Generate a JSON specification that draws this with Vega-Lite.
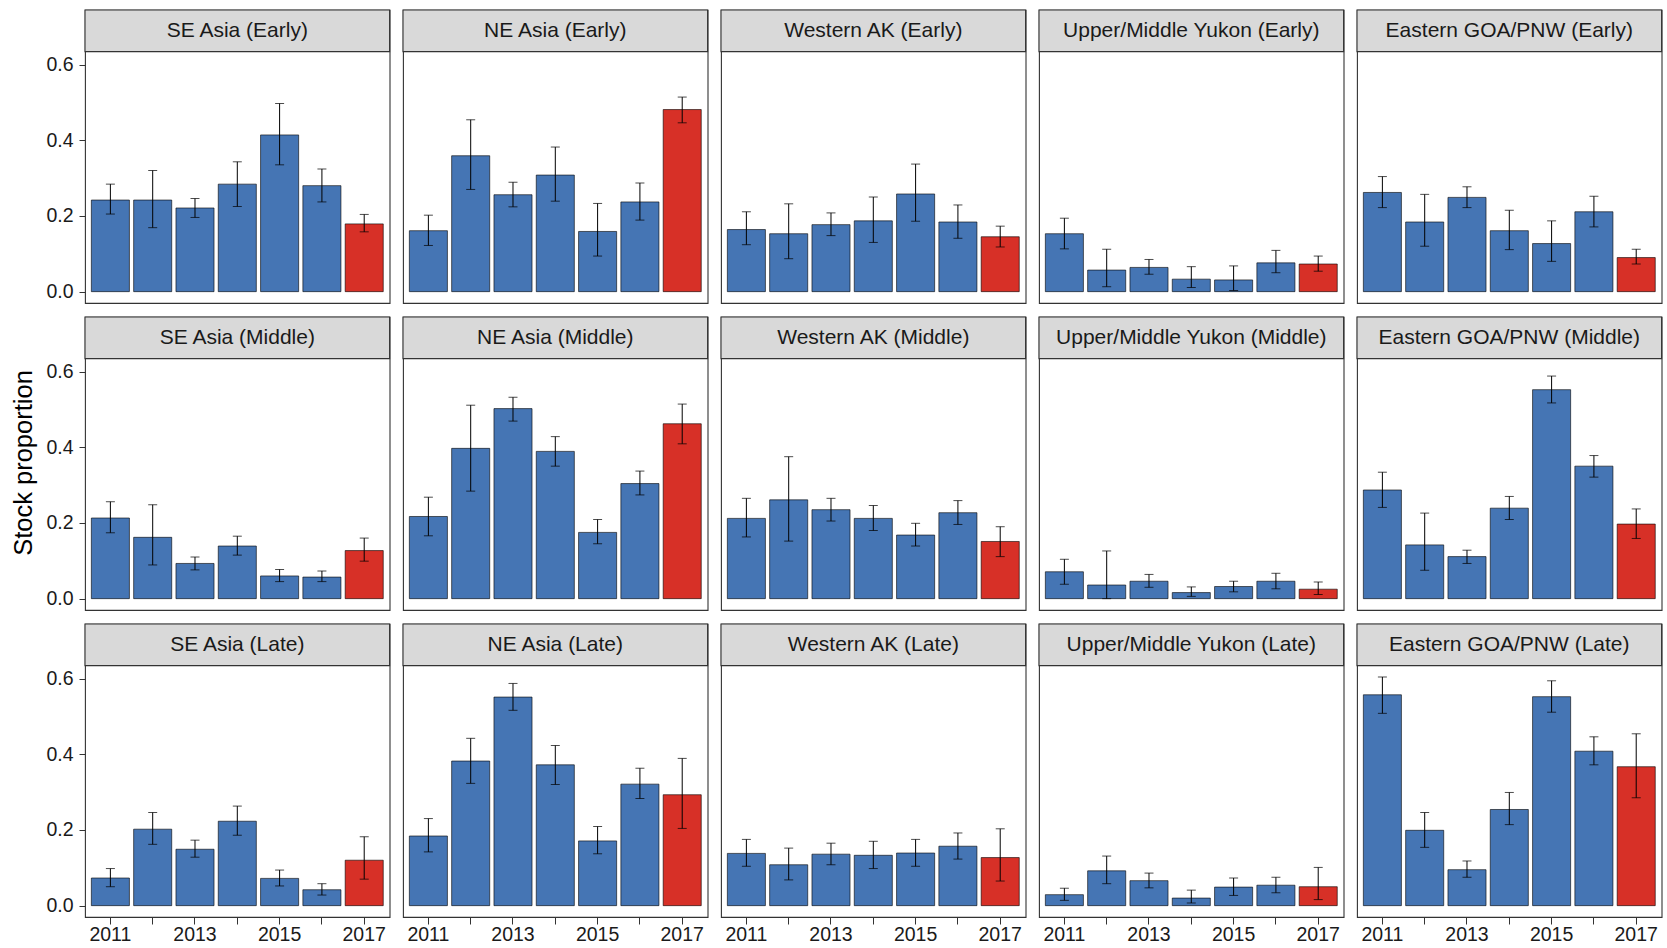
{
  "$schema": "https://vega.github.io/schema/vega-lite/v6.json",
  "padding": {"left": 11, "top": 8, "right": 2, "bottom": 0},
  "background": "white",
  "bounds": "flush",
  "config": {
    "font": "Liberation Sans",
    "view": {"stroke": "#333333", "strokeWidth": 1.1},
    "header": {"titleFontSize": 25.5, "titleFont": "Liberation Sans", "titleFontWeight": "normal", "titleColor": "#000000", "labelPadding": 0, "titlePadding": -2},
    "axis": {"grid": false, "domain": false, "tickColor": "#333333", "labelColor": "#1a1a1a", "labelFont": "Liberation Sans", "titleFont": "Liberation Sans", "titleFontWeight": "normal", "titleColor": "#000000"}
  },
  "data": {"values": [
    {"stock":"SE Asia","timing":"Early","year":2011,"p":0.242,"lo":0.205,"hi":0.284},
    {"stock":"SE Asia","timing":"Early","year":2012,"p":0.242,"lo":0.169,"hi":0.320},
    {"stock":"SE Asia","timing":"Early","year":2013,"p":0.221,"lo":0.196,"hi":0.246},
    {"stock":"SE Asia","timing":"Early","year":2014,"p":0.284,"lo":0.225,"hi":0.343},
    {"stock":"SE Asia","timing":"Early","year":2015,"p":0.414,"lo":0.335,"hi":0.497},
    {"stock":"SE Asia","timing":"Early","year":2016,"p":0.280,"lo":0.237,"hi":0.324},
    {"stock":"SE Asia","timing":"Early","year":2017,"p":0.179,"lo":0.158,"hi":0.204},
    {"stock":"NE Asia","timing":"Early","year":2011,"p":0.161,"lo":0.122,"hi":0.202},
    {"stock":"NE Asia","timing":"Early","year":2012,"p":0.359,"lo":0.270,"hi":0.454},
    {"stock":"NE Asia","timing":"Early","year":2013,"p":0.256,"lo":0.224,"hi":0.289},
    {"stock":"NE Asia","timing":"Early","year":2014,"p":0.308,"lo":0.239,"hi":0.382},
    {"stock":"NE Asia","timing":"Early","year":2015,"p":0.159,"lo":0.094,"hi":0.233},
    {"stock":"NE Asia","timing":"Early","year":2016,"p":0.237,"lo":0.189,"hi":0.287},
    {"stock":"NE Asia","timing":"Early","year":2017,"p":0.481,"lo":0.446,"hi":0.514},
    {"stock":"Western AK","timing":"Early","year":2011,"p":0.164,"lo":0.124,"hi":0.211},
    {"stock":"Western AK","timing":"Early","year":2012,"p":0.153,"lo":0.087,"hi":0.232},
    {"stock":"Western AK","timing":"Early","year":2013,"p":0.177,"lo":0.148,"hi":0.208},
    {"stock":"Western AK","timing":"Early","year":2014,"p":0.187,"lo":0.130,"hi":0.250},
    {"stock":"Western AK","timing":"Early","year":2015,"p":0.258,"lo":0.186,"hi":0.337},
    {"stock":"Western AK","timing":"Early","year":2016,"p":0.184,"lo":0.141,"hi":0.229},
    {"stock":"Western AK","timing":"Early","year":2017,"p":0.145,"lo":0.118,"hi":0.173},
    {"stock":"Upper/Middle Yukon","timing":"Early","year":2011,"p":0.153,"lo":0.113,"hi":0.194},
    {"stock":"Upper/Middle Yukon","timing":"Early","year":2012,"p":0.057,"lo":0.013,"hi":0.112},
    {"stock":"Upper/Middle Yukon","timing":"Early","year":2013,"p":0.064,"lo":0.046,"hi":0.085},
    {"stock":"Upper/Middle Yukon","timing":"Early","year":2014,"p":0.033,"lo":0.011,"hi":0.066},
    {"stock":"Upper/Middle Yukon","timing":"Early","year":2015,"p":0.031,"lo":0.003,"hi":0.068},
    {"stock":"Upper/Middle Yukon","timing":"Early","year":2016,"p":0.076,"lo":0.050,"hi":0.109},
    {"stock":"Upper/Middle Yukon","timing":"Early","year":2017,"p":0.073,"lo":0.054,"hi":0.094},
    {"stock":"Eastern GOA/PNW","timing":"Early","year":2011,"p":0.262,"lo":0.222,"hi":0.304},
    {"stock":"Eastern GOA/PNW","timing":"Early","year":2012,"p":0.184,"lo":0.120,"hi":0.257},
    {"stock":"Eastern GOA/PNW","timing":"Early","year":2013,"p":0.249,"lo":0.222,"hi":0.277},
    {"stock":"Eastern GOA/PNW","timing":"Early","year":2014,"p":0.161,"lo":0.111,"hi":0.215},
    {"stock":"Eastern GOA/PNW","timing":"Early","year":2015,"p":0.127,"lo":0.080,"hi":0.187},
    {"stock":"Eastern GOA/PNW","timing":"Early","year":2016,"p":0.211,"lo":0.171,"hi":0.252},
    {"stock":"Eastern GOA/PNW","timing":"Early","year":2017,"p":0.090,"lo":0.073,"hi":0.112},
    {"stock":"SE Asia","timing":"Middle","year":2011,"p":0.213,"lo":0.174,"hi":0.256},
    {"stock":"SE Asia","timing":"Middle","year":2012,"p":0.162,"lo":0.089,"hi":0.248},
    {"stock":"SE Asia","timing":"Middle","year":2013,"p":0.093,"lo":0.076,"hi":0.110},
    {"stock":"SE Asia","timing":"Middle","year":2014,"p":0.139,"lo":0.115,"hi":0.165},
    {"stock":"SE Asia","timing":"Middle","year":2015,"p":0.060,"lo":0.045,"hi":0.077},
    {"stock":"SE Asia","timing":"Middle","year":2016,"p":0.057,"lo":0.045,"hi":0.073},
    {"stock":"SE Asia","timing":"Middle","year":2017,"p":0.127,"lo":0.099,"hi":0.160},
    {"stock":"NE Asia","timing":"Middle","year":2011,"p":0.217,"lo":0.166,"hi":0.268},
    {"stock":"NE Asia","timing":"Middle","year":2012,"p":0.397,"lo":0.284,"hi":0.511},
    {"stock":"NE Asia","timing":"Middle","year":2013,"p":0.502,"lo":0.469,"hi":0.532},
    {"stock":"NE Asia","timing":"Middle","year":2014,"p":0.389,"lo":0.350,"hi":0.428},
    {"stock":"NE Asia","timing":"Middle","year":2015,"p":0.175,"lo":0.145,"hi":0.209},
    {"stock":"NE Asia","timing":"Middle","year":2016,"p":0.304,"lo":0.274,"hi":0.337},
    {"stock":"NE Asia","timing":"Middle","year":2017,"p":0.462,"lo":0.409,"hi":0.514},
    {"stock":"Western AK","timing":"Middle","year":2011,"p":0.212,"lo":0.163,"hi":0.265},
    {"stock":"Western AK","timing":"Middle","year":2012,"p":0.261,"lo":0.152,"hi":0.375},
    {"stock":"Western AK","timing":"Middle","year":2013,"p":0.235,"lo":0.205,"hi":0.265},
    {"stock":"Western AK","timing":"Middle","year":2014,"p":0.212,"lo":0.180,"hi":0.246},
    {"stock":"Western AK","timing":"Middle","year":2015,"p":0.168,"lo":0.139,"hi":0.199},
    {"stock":"Western AK","timing":"Middle","year":2016,"p":0.227,"lo":0.196,"hi":0.259},
    {"stock":"Western AK","timing":"Middle","year":2017,"p":0.151,"lo":0.111,"hi":0.190},
    {"stock":"Upper/Middle Yukon","timing":"Middle","year":2011,"p":0.071,"lo":0.038,"hi":0.104},
    {"stock":"Upper/Middle Yukon","timing":"Middle","year":2012,"p":0.036,"lo":0.000,"hi":0.126},
    {"stock":"Upper/Middle Yukon","timing":"Middle","year":2013,"p":0.046,"lo":0.030,"hi":0.064},
    {"stock":"Upper/Middle Yukon","timing":"Middle","year":2014,"p":0.016,"lo":0.006,"hi":0.031},
    {"stock":"Upper/Middle Yukon","timing":"Middle","year":2015,"p":0.032,"lo":0.018,"hi":0.046},
    {"stock":"Upper/Middle Yukon","timing":"Middle","year":2016,"p":0.046,"lo":0.026,"hi":0.067},
    {"stock":"Upper/Middle Yukon","timing":"Middle","year":2017,"p":0.025,"lo":0.011,"hi":0.044},
    {"stock":"Eastern GOA/PNW","timing":"Middle","year":2011,"p":0.287,"lo":0.241,"hi":0.334},
    {"stock":"Eastern GOA/PNW","timing":"Middle","year":2012,"p":0.142,"lo":0.075,"hi":0.226},
    {"stock":"Eastern GOA/PNW","timing":"Middle","year":2013,"p":0.111,"lo":0.093,"hi":0.128},
    {"stock":"Eastern GOA/PNW","timing":"Middle","year":2014,"p":0.239,"lo":0.209,"hi":0.270},
    {"stock":"Eastern GOA/PNW","timing":"Middle","year":2015,"p":0.552,"lo":0.517,"hi":0.588},
    {"stock":"Eastern GOA/PNW","timing":"Middle","year":2016,"p":0.350,"lo":0.321,"hi":0.378},
    {"stock":"Eastern GOA/PNW","timing":"Middle","year":2017,"p":0.197,"lo":0.159,"hi":0.237},
    {"stock":"SE Asia","timing":"Late","year":2011,"p":0.073,"lo":0.050,"hi":0.098},
    {"stock":"SE Asia","timing":"Late","year":2012,"p":0.202,"lo":0.162,"hi":0.246},
    {"stock":"SE Asia","timing":"Late","year":2013,"p":0.149,"lo":0.128,"hi":0.173},
    {"stock":"SE Asia","timing":"Late","year":2014,"p":0.223,"lo":0.186,"hi":0.263},
    {"stock":"SE Asia","timing":"Late","year":2015,"p":0.072,"lo":0.052,"hi":0.094},
    {"stock":"SE Asia","timing":"Late","year":2016,"p":0.042,"lo":0.028,"hi":0.058},
    {"stock":"SE Asia","timing":"Late","year":2017,"p":0.120,"lo":0.070,"hi":0.182},
    {"stock":"NE Asia","timing":"Late","year":2011,"p":0.184,"lo":0.142,"hi":0.230},
    {"stock":"NE Asia","timing":"Late","year":2012,"p":0.382,"lo":0.323,"hi":0.442},
    {"stock":"NE Asia","timing":"Late","year":2013,"p":0.551,"lo":0.516,"hi":0.587},
    {"stock":"NE Asia","timing":"Late","year":2014,"p":0.372,"lo":0.320,"hi":0.423},
    {"stock":"NE Asia","timing":"Late","year":2015,"p":0.171,"lo":0.137,"hi":0.209},
    {"stock":"NE Asia","timing":"Late","year":2016,"p":0.321,"lo":0.283,"hi":0.363},
    {"stock":"NE Asia","timing":"Late","year":2017,"p":0.293,"lo":0.204,"hi":0.389},
    {"stock":"Western AK","timing":"Late","year":2011,"p":0.138,"lo":0.104,"hi":0.175},
    {"stock":"Western AK","timing":"Late","year":2012,"p":0.108,"lo":0.068,"hi":0.152},
    {"stock":"Western AK","timing":"Late","year":2013,"p":0.136,"lo":0.108,"hi":0.165},
    {"stock":"Western AK","timing":"Late","year":2014,"p":0.133,"lo":0.098,"hi":0.170},
    {"stock":"Western AK","timing":"Late","year":2015,"p":0.139,"lo":0.104,"hi":0.175},
    {"stock":"Western AK","timing":"Late","year":2016,"p":0.157,"lo":0.123,"hi":0.192},
    {"stock":"Western AK","timing":"Late","year":2017,"p":0.127,"lo":0.065,"hi":0.203},
    {"stock":"Upper/Middle Yukon","timing":"Late","year":2011,"p":0.029,"lo":0.014,"hi":0.046},
    {"stock":"Upper/Middle Yukon","timing":"Late","year":2012,"p":0.092,"lo":0.058,"hi":0.131},
    {"stock":"Upper/Middle Yukon","timing":"Late","year":2013,"p":0.066,"lo":0.047,"hi":0.086},
    {"stock":"Upper/Middle Yukon","timing":"Late","year":2014,"p":0.020,"lo":0.007,"hi":0.041},
    {"stock":"Upper/Middle Yukon","timing":"Late","year":2015,"p":0.049,"lo":0.027,"hi":0.073},
    {"stock":"Upper/Middle Yukon","timing":"Late","year":2016,"p":0.054,"lo":0.034,"hi":0.075},
    {"stock":"Upper/Middle Yukon","timing":"Late","year":2017,"p":0.050,"lo":0.016,"hi":0.101},
    {"stock":"Eastern GOA/PNW","timing":"Late","year":2011,"p":0.557,"lo":0.508,"hi":0.604},
    {"stock":"Eastern GOA/PNW","timing":"Late","year":2012,"p":0.199,"lo":0.154,"hi":0.246},
    {"stock":"Eastern GOA/PNW","timing":"Late","year":2013,"p":0.095,"lo":0.075,"hi":0.118},
    {"stock":"Eastern GOA/PNW","timing":"Late","year":2014,"p":0.254,"lo":0.214,"hi":0.299},
    {"stock":"Eastern GOA/PNW","timing":"Late","year":2015,"p":0.552,"lo":0.511,"hi":0.594},
    {"stock":"Eastern GOA/PNW","timing":"Late","year":2016,"p":0.408,"lo":0.372,"hi":0.446},
    {"stock":"Eastern GOA/PNW","timing":"Late","year":2017,"p":0.367,"lo":0.285,"hi":0.454}
  ]},
  "transform": [{"calculate": "datum.stock + ' (' + datum.timing + ')'", "as": "label"}],
  "facet": {
    "row": {"field": "timing", "type": "nominal", "sort": ["Early", "Middle", "Late"],
      "title": "Stock proportion",
      "header": {"labels": false, "titleFontSize": 25.5, "titleFont": "Liberation Sans", "titleFontWeight": "normal", "titleColor": "#000000", "labelPadding": 0, "titlePadding": -2}},
    "column": {"field": "stock", "type": "nominal", "sort": ["SE Asia", "NE Asia", "Western AK", "Upper/Middle Yukon", "Eastern GOA/PNW"], "header": null}
  },
  "spacing": {"row": 14, "column": 13},
  "spec": {
    "width": 304.6,
    "height": 293,
    "encoding": {
      "x": {"field": "year", "type": "ordinal", "title": null,
        "scale": {"paddingInner": 0.1, "paddingOuter": 0.15},
        "axis": {"labelAngle": 0, "labelFontSize": 19.5, "tickSize": 7, "labelPadding": 1, "labelExpr": "(datum.value - 2011) % 2 == 0 ? datum.label : ''"}},
      "y": {"type": "quantitative"}
    },
    "layer": [
      {
        "mark": {"type": "bar", "stroke": "#000000", "strokeWidth": 0.6},
        "encoding": {
          "y": {"field": "p", "type": "quantitative", "title": null,
            "scale": {"domain": [-0.03, 0.744], "nice": false, "zero": false},
            "axis": {"values": [0, 0.2, 0.4, 0.6], "format": ".1f", "labelFontSize": 19.5, "tickSize": 6, "labelPadding": 6}},
          "color": {"condition": {"test": "datum.year == 2017", "value": "#D73027"}, "value": "#4575B4"}
        }
      },
      {
        "mark": {"type": "rule", "color": "#000000", "strokeWidth": 1},
        "encoding": {
          "y": {"field": "lo", "type": "quantitative"},
          "y2": {"field": "hi"}
        }
      },
      {
        "mark": {"type": "tick", "color": "#000000", "size": 9, "thickness": 1},
        "encoding": {"y": {"field": "lo", "type": "quantitative"}}
      },
      {
        "mark": {"type": "tick", "color": "#000000", "size": 9, "thickness": 1},
        "encoding": {"y": {"field": "hi", "type": "quantitative"}}
      },
      {
        "transform": [{"filter": "datum.year == 2011"}],
        "mark": {"type": "rect", "fill": "#D9D9D9", "stroke": "#333333", "strokeWidth": 1.1},
        "encoding": {
          "x": null,
          "y": {"datum": 0.634},
          "y2": {"datum": 0.744}
        }
      },
      {
        "transform": [{"filter": "datum.year == 2011"}],
        "mark": {"type": "text", "fontSize": 21, "color": "#1a1a1a", "baseline": "middle", "align": "center"},
        "encoding": {
          "x": null,
          "y": {"datum": 0.689},
          "text": {"field": "label"}
        }
      }
    ]
  }
}
